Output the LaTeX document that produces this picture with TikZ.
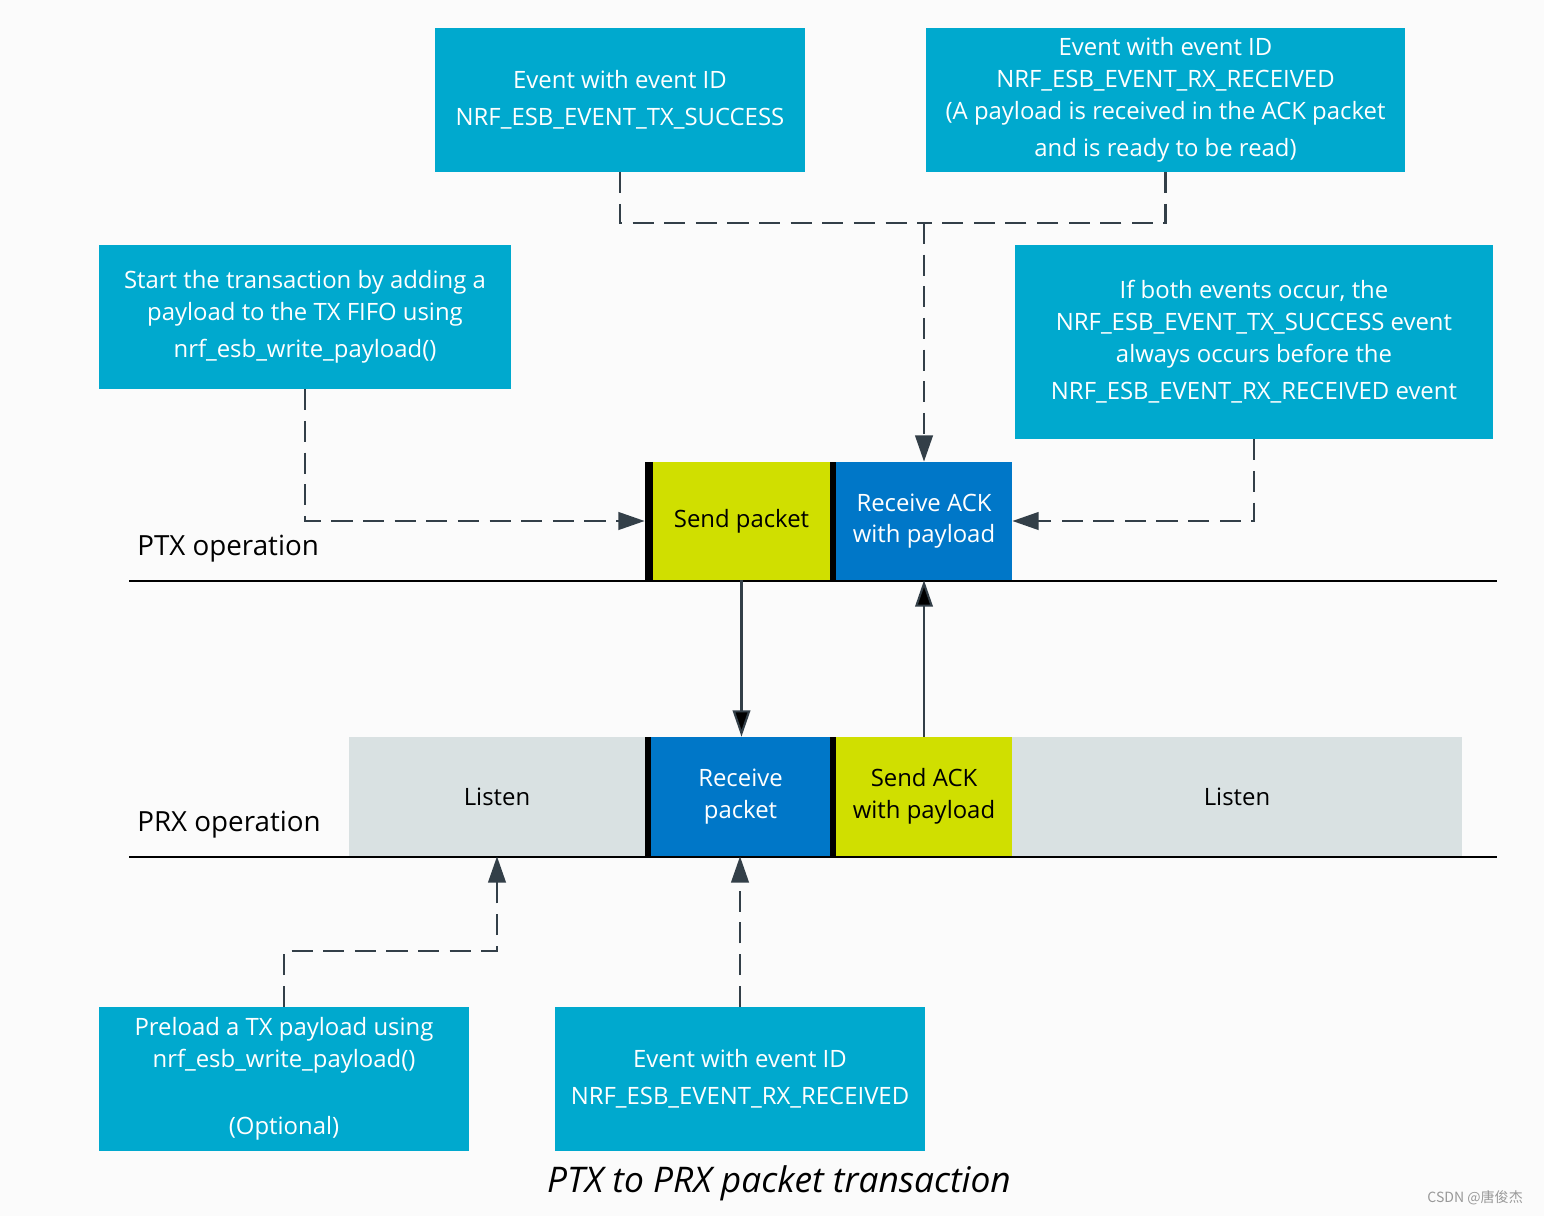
\documentclass[tikz,border=0pt]{standalone}
\usepackage{fontspec}
\setmainfont{Open Sans}
\newfontfamily\cjkfont{Noto Sans CJK SC}
\usetikzlibrary{arrows.meta}

\begin{document}
\begin{tikzpicture}[x=0.02cm,y=-0.02cm,
  font=\fontsize{13.6}{18.1}\selectfont,
  info/.style={rectangle,fill=nordic,text=white,align=center,inner sep=0pt,minimum height=2.88cm},
  block/.style={rectangle,align=center,inner sep=0pt,minimum height=2.36cm},
  prx/.style={block,minimum height=2.38cm},
  label/.style={anchor=west,inner sep=0pt,font=\fontsize{15.8}{18}\selectfont},
  link/.style={draw=arrowgray,line width=1.5pt,dash pattern=on 12pt off 6pt},
  wire/.style={draw=arrowgray,line width=1.2pt},
  tip/.style={-{Triangle[length=15pt,width=10pt]}}]
  \definecolor{bgcol}{RGB}{251,251,251}
  \definecolor{nordic}{RGB}{0,169,206}
  \definecolor{nblue}{RGB}{0,119,200}
  \definecolor{lime}{RGB}{208,223,0}
  \definecolor{lgray}{RGB}{217,225,226}
  \definecolor{arrowgray}{RGB}{51,63,72}
  \fill[bgcol] (0,0) rectangle (1544,1216);

  % event boxes
  \node[info,minimum width=7.4cm] (txok) at (620,100) {Event with event ID\\[3pt]NRF\_ESB\_EVENT\_TX\_SUCCESS};
  \node[info,minimum width=9.58cm] (rxok) at (1165.5,100) {Event with event ID\\NRF\_ESB\_EVENT\_RX\_RECEIVED\\(A payload is received in the ACK packet\\[3pt]and is ready to be read)};
  \node[info,minimum width=8.24cm] (start) at (305,317) {Start the transaction by adding a\\payload to the TX FIFO using\\[3pt]nrf\_esb\_write\_payload()};
  \node[info,minimum width=9.56cm,minimum height=3.88cm] (both) at (1254,342) {If both events occur, the\\NRF\_ESB\_EVENT\_TX\_SUCCESS event\\always occurs before the\\[3pt]NRF\_ESB\_EVENT\_RX\_RECEIVED event};
  \node[info,minimum width=7.4cm] (pre) at (284,1079) {Preload a TX payload using\\nrf\_esb\_write\_payload()\\[20pt](Optional)};
  \node[info,minimum width=7.4cm] (rxev) at (740,1079) {Event with event ID\\[3pt]NRF\_ESB\_EVENT\_RX\_RECEIVED};

  % PTX
  \node[block,fill=lime,minimum width=3.54cm] (send) at (741.5,521) {Send packet};
  \node[block,fill=nblue,text=white,minimum width=3.52cm] (rack) at (924,521) {Receive ACK\\with payload};
  \fill (send.north west) rectangle ++(-8,118);
  \fill (rack.north west) rectangle ++(-6,118);
  \node[label] (ptx) at (137,549) {PTX operation};
  \draw[line width=0.9pt] (129,581) -- (1497,581);

  % PRX
  \node[prx,fill=lgray,minimum width=5.92cm] (lsn1) at (497,796.5) {Listen};
  \node[prx,fill=nblue,text=white,minimum width=3.58cm] (rpkt) at (740.5,796.5) {Receive\\packet};
  \node[prx,fill=lime,minimum width=3.52cm] (sack) at (924,796.5) {Send ACK\\with payload};
  \node[prx,fill=lgray,minimum width=9cm] (lsn2) at (1237,796.5) {Listen};
  \fill (rpkt.north west) rectangle ++(-6,119);
  \fill (sack.north west) rectangle ++(-6,119);
  \node[label] (prxl) at (137,825) {PRX operation};
  \draw[line width=0.9pt] (129,857) -- (1497,857);

  % connectors
  \coordinate (join) at (924,223);
  \coordinate (knee) at (497,951);
  \draw[link] (txok.south) |- (join);
  \draw[link] (rxok.south) |- (join);
  \draw[link,tip] (join) -- (rack.north);
  \draw[link,tip,shorten >=0.16cm] (start.south) |- (send.west);
  \draw[link,tip] (both.south) |- (rack.east);
  \draw[link,tip] (pre.north) |- (knee) -- (lsn1.south);
  \draw[link,tip] (rxev.north) -- (rxev.north |- rpkt.south);
  \path[wire] (send.south) edge[tip] (send.south |- rpkt.north)
              (sack.north) edge[tip] (rack.south);

  \node[font=\fontsize{20.1}{23}\selectfont\itshape] (cap) at (779,1183) {PTX to PRX packet transaction};
  \node[anchor=east,text=gray!80,font=\cjkfont\fontsize{8}{9}\selectfont] (mark) at (1529,1198) {CSDN @唐俊杰};
\end{tikzpicture}
\end{document}
